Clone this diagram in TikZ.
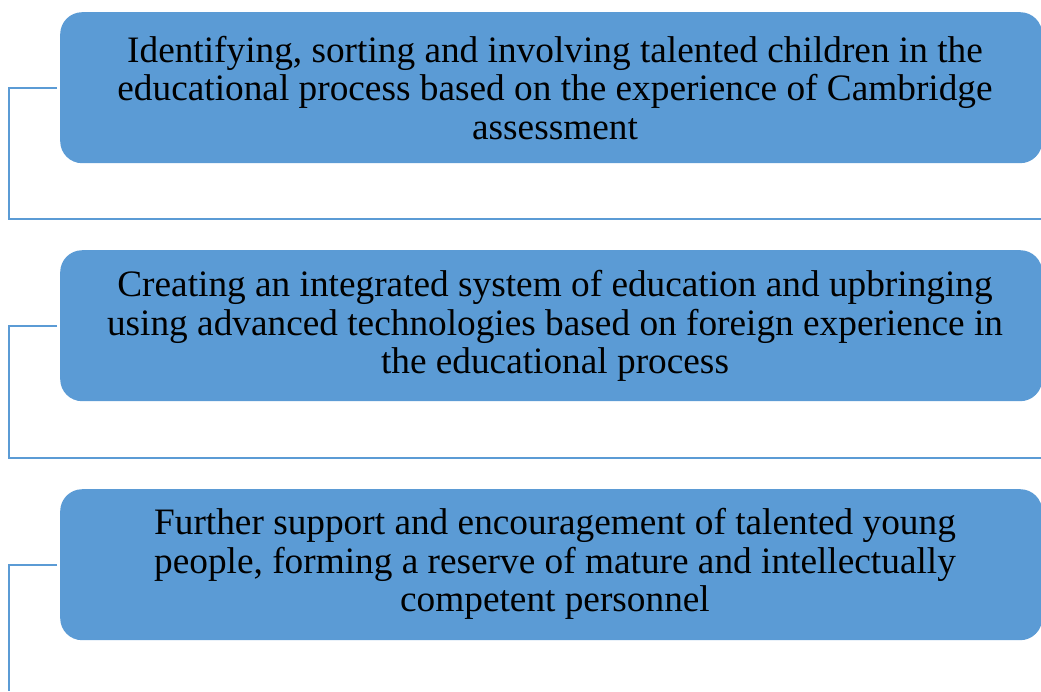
\documentclass[tikz,border=0pt]{standalone}
\usepackage{fontspec}
\setmainfont{Liberation Serif}
\definecolor{boxblue}{HTML}{5B9BD5}
\tikzset{
  itembox/.style={draw=none, fill=boxblue, rounded corners=22pt, minimum width=982pt, minimum height=151pt, anchor=north west, inner sep=0pt},
  itemtext/.style={align=center, font=\fontsize{37.3}{38.5}\selectfont, inner sep=0pt},
  link/.style={draw=boxblue, line width=2pt}
}
\begin{document}
\begin{tikzpicture}[x=1pt,y=-1pt]
\useasboundingbox (0,0) rectangle (1041,691);
\node[itembox] (b1) at (60,12) {};
\node[itembox] (b2) at (60,250) {};
\node[itembox] (b3) at (60,489) {};
\node[itemtext] (t1) at (555,88) {Identifying, sorting and involving talented children in the\\educational process based on the experience of Cambridge\\assessment};
\node[itemtext] (t2) at (555,326) {Creating an integrated system of education and upbringing\\using advanced technologies based on foreign experience in\\the educational process};
\node[itemtext] (t3) at (555,564) {Further support and encouragement of talented young\\people, forming a reserve of mature and intellectually\\competent personnel};
\coordinate (e1) at (1041,219);
\coordinate (e2) at (1041,458);
\coordinate (e3) at (9,691);
\draw[link] ([xshift=-3pt]b1.west) -- ++(-48,0) |- (e1);
\draw[link] ([xshift=-3pt]b2.west) -- ++(-48,0) |- (e2);
\draw[link] ([xshift=-3pt]b3.west) -- ++(-48,0) -- (e3);
\end{tikzpicture}
\end{document}
